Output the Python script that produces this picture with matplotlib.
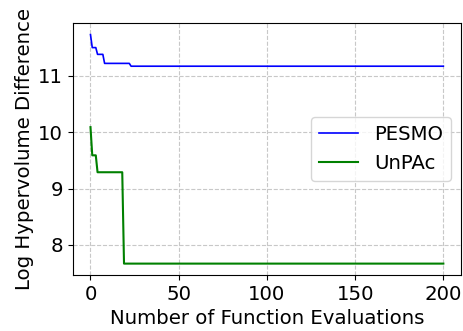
import matplotlib
matplotlib.use('Agg')
import matplotlib.pyplot as plt

# step points (evaluation index, log hypervolume difference)
pesmo_x = [0, 1, 3, 4, 7, 8, 22, 23, 200]
pesmo_y = [11.73, 11.50, 11.50, 11.38, 11.38, 11.22, 11.22, 11.17, 11.17]

unpac_x = [0, 1, 3, 4, 18, 19, 200]
unpac_y = [10.09, 9.59, 9.59, 9.29, 9.29, 7.67, 7.67]

x_ticks = [0, 50, 100, 150, 200]
y_ticks = [8, 9, 10, 11]


def main():
    plt.rcParams['font.size'] = 14.2
    fig, ax = plt.subplots(figsize=(4.64, 3.31), dpi=100)
    fig.subplots_adjust(left=0.157, right=0.9935, top=0.93, bottom=0.169)

    ax.plot(pesmo_x, pesmo_y, color='blue', lw=1.2, label='PESMO')
    ax.plot(unpac_x, unpac_y, color='green', lw=1.5, label='UnPAc')

    ax.set_xticks(x_ticks)
    ax.set_yticks(y_ticks)
    ax.grid(True, linestyle='--', color='#c8c8c8', lw=0.8)
    ax.set_xlabel('Number of Function Evaluations', labelpad=4)
    ax.set_ylabel('Log Hypervolume Difference', labelpad=3)
    ax.legend(loc='center right')

    fig.savefig('out.png', dpi=100)


if __name__ == '__main__':
    main()
